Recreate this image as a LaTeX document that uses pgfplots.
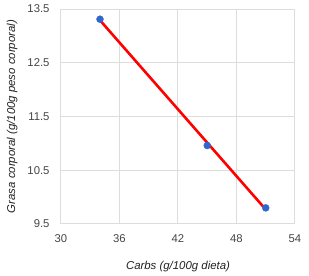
\documentclass[border=0pt]{standalone}
\usepackage{fontspec}
\setmainfont{Liberation Sans}
\usepackage{pgfplots}
\pgfplotsset{compat=1.18}
\definecolor{gblue}{HTML}{3366CC}
\definecolor{ggrid}{HTML}{DDDDDD}
\definecolor{gtext}{HTML}{444444}
\definecolor{gtitle}{HTML}{222222}
\begin{document}
\begin{tikzpicture}[x=1pt,y=1pt]
\useasboundingbox (-61,-52) rectangle (248,224);
\begin{axis}[
  at={(0,0)}, anchor=south west,
  scale only axis, width=234pt, height=215pt,
  xmin=30, xmax=54, ymin=9.5, ymax=13.5,
  xtick={30,36,42,48,54}, ytick={9.5,10.5,11.5,12.5,13.5},
  yticklabel style={/pgf/number format/fixed,/pgf/number format/fixed zerofill,/pgf/number format/precision=1, xshift=-8pt},
  /pgf/number format/assume math mode=true,
  grid=major, major grid style={ggrid, line width=1pt},
  axis line style={ggrid, line width=1pt},
  tick style={draw=none},
  ticklabel style={font=\fontsize{11.3}{13}\selectfont, text=gtext},
  xticklabel style={yshift=-7pt},
  xlabel={\itshape Carbs (g/100g dieta)},
  ylabel={\itshape Grasa corporal (g/100g peso corporal)},
  label style={font=\fontsize{11.4}{13}\selectfont, text=gtitle},
  xlabel style={at={(axis description cs:0.5,0)}, yshift=-34pt},
  ylabel style={at={(axis description cs:0,0.5)}, yshift=40pt},
  clip=false,
]
\addplot[gblue, only marks, mark=*, mark size=3.5pt] coordinates {(34,13.31) (45,10.96) (51,9.80)};
\addplot[red, line width=2.6pt, no marks] coordinates {(34,13.29) (51,9.77)};
\end{axis}
\end{tikzpicture}
\end{document}
